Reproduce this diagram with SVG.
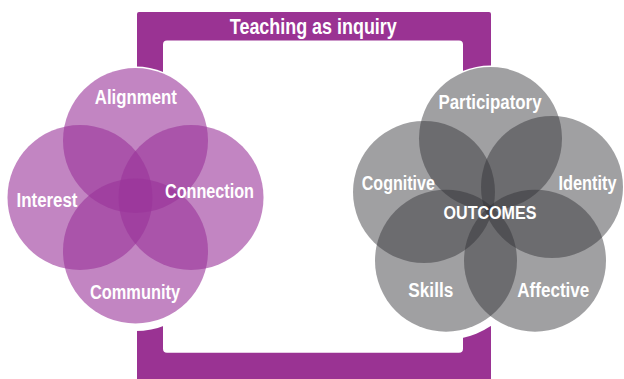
<svg xmlns="http://www.w3.org/2000/svg" width="624" height="379" viewBox="0 0 624 379">
<style>
.bracket{fill:#9a3393}
.halo{fill:#ffffff}
.pc{fill:#993399;fill-opacity:0.6}
.gc{fill:#303135;fill-opacity:0.46}
text{font-family:"Liberation Sans",Arial,sans-serif;font-weight:bold;fill:#ffffff;text-anchor:middle}
.lbl{font-size:20px}
.title{font-size:22px}
</style>
<g id="connectors">
<path class="bracket" d="M139,12 H489 Q491,12 491,14 V80 H463 V44.5 Q463,40.5 459,40.5 H167 Q163,40.5 163,44.5 V80 H137 V14 Q137,12 139,12 Z"/>
<path class="bracket" d="M137,310 H163 V348.7 Q163,352.7 167,352.7 H459 Q463,352.7 463,348.7 V310 H491 V379 H137 Z"/>
<text class="title" x="313.3" y="33.5" textLength="167" lengthAdjust="spacingAndGlyphs">Teaching as inquiry</text>
</g>
<g id="halos">
<circle class="halo" cx="135.5" cy="140.5" r="74"/>
<circle class="halo" cx="135.5" cy="251" r="80"/>
<circle class="halo" cx="490.5" cy="138.5" r="73"/>
<circle class="halo" cx="446" cy="260.7" r="79"/>
<circle class="halo" cx="535" cy="260.7" r="79"/>
</g>
<g id="alignment"><circle class="pc" cx="135.5" cy="140.5" r="72.5"/></g>
<g id="interest"><circle class="pc" cx="80" cy="197.5" r="72.5"/></g>
<g id="connection"><circle class="pc" cx="191" cy="197.5" r="72.5"/></g>
<g id="community"><circle class="pc" cx="135.5" cy="251" r="72.5"/></g>
<g id="participatory"><circle class="gc" cx="490.5" cy="138.5" r="71.5"/></g>
<g id="cognitive"><circle class="gc" cx="424" cy="192" r="71"/></g>
<g id="identity"><circle class="gc" cx="552" cy="187" r="71"/></g>
<g id="skills"><circle class="gc" cx="446" cy="260.7" r="71"/></g>
<g id="affective"><circle class="gc" cx="535" cy="260.7" r="71"/></g>
<g id="labels">
<text class="lbl" x="135.8" y="104" textLength="82" lengthAdjust="spacingAndGlyphs">Alignment</text>
<text class="lbl" x="47" y="206.5" textLength="61" lengthAdjust="spacingAndGlyphs">Interest</text>
<text class="lbl" x="209.5" y="198.3" textLength="89" lengthAdjust="spacingAndGlyphs">Connection</text>
<text class="lbl" x="135" y="299.3" textLength="90" lengthAdjust="spacingAndGlyphs">Community</text>
<text class="lbl" x="490" y="109.3" textLength="103" lengthAdjust="spacingAndGlyphs">Participatory</text>
<text class="lbl" x="398.3" y="190" textLength="73" lengthAdjust="spacingAndGlyphs">Cognitive</text>
<text class="lbl" x="587.5" y="190" textLength="58" lengthAdjust="spacingAndGlyphs">Identity</text>
<text class="lbl" x="490" y="219" textLength="93" lengthAdjust="spacingAndGlyphs" style="font-size:19px">OUTCOMES</text>
<text class="lbl" x="430.8" y="296.7" textLength="45" lengthAdjust="spacingAndGlyphs">Skills</text>
<text class="lbl" x="553.3" y="296.7" textLength="72" lengthAdjust="spacingAndGlyphs">Affective</text>
</g>
</svg>
